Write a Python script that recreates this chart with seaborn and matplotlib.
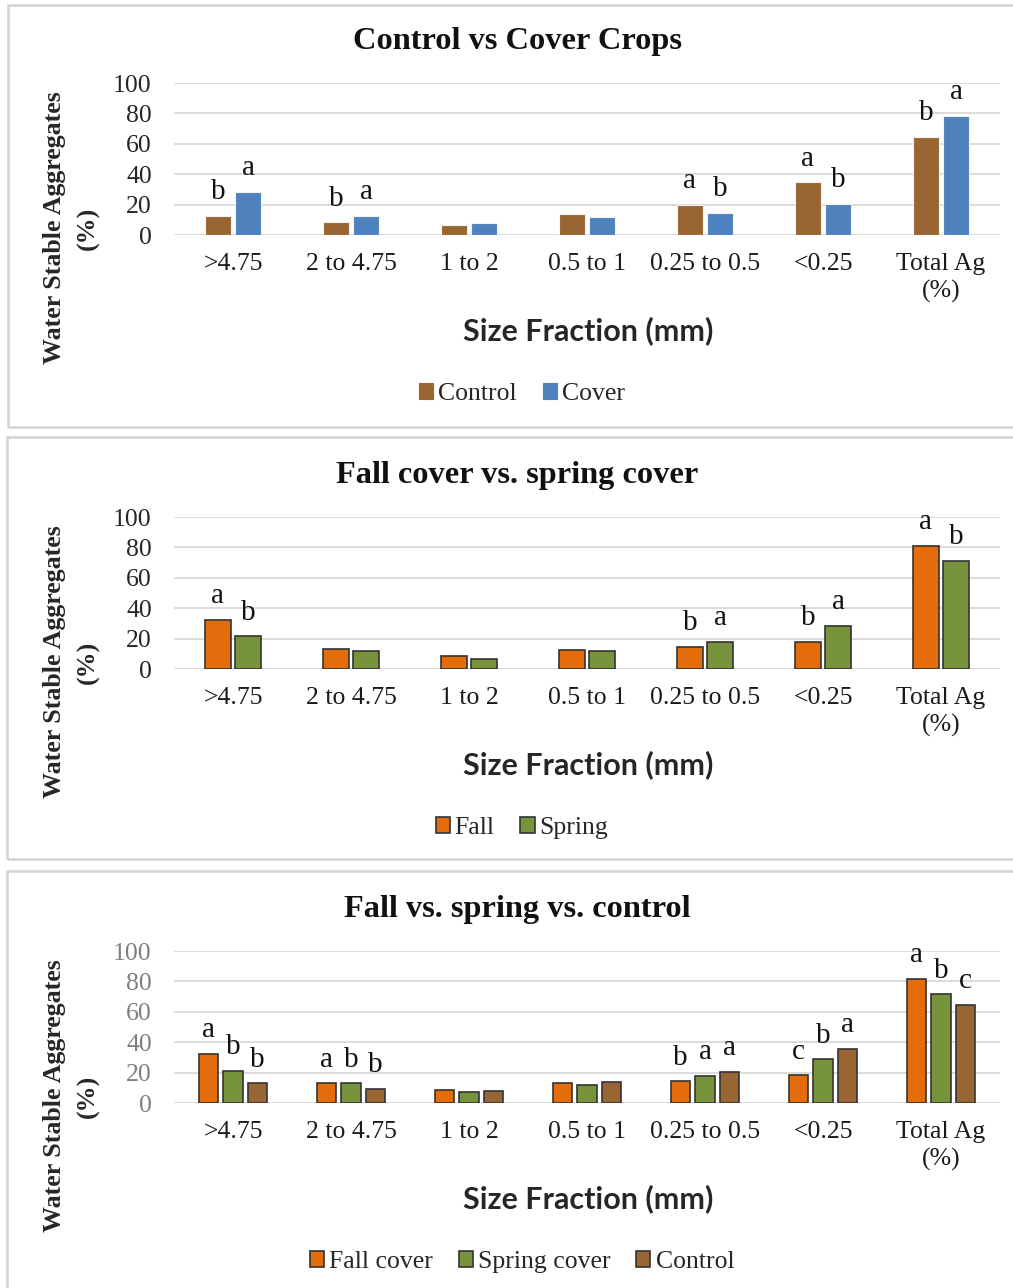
import matplotlib
matplotlib.use("Agg")
import matplotlib.pyplot as plt
import seaborn as sns
import pandas as pd
from matplotlib.patches import Rectangle, Patch

# ---------------- data ----------------
categories = [">4.75", "2 to 4.75", "1 to 2", "0.5 to 1", "0.25 to 0.5", "<0.25", "Total Ag\n(%)"]

# Panel 1: Control vs Cover Crops
p1_title = "Control vs Cover Crops"
p1_series = ["Control", "Cover"]
p1_control = [12.4, 8.4, 6.9, 14.0, 20.0, 34.7, 64.7]
p1_cover = [28.4, 12.4, 7.7, 11.7, 14.7, 20.7, 78.4]
p1_letters_control = ["b", "b", "", "", "a", "a", "b"]
p1_letters_cover = ["a", "a", "", "", "b", "b", "a"]

# Panel 2: Fall cover vs. spring cover
p2_title = "Fall cover vs. spring cover"
p2_series = ["Fall", "Spring"]
p2_fall = [32.5, 13.0, 8.8, 12.4, 14.6, 17.9, 81.2]
p2_spring = [21.4, 12.1, 6.8, 12.1, 17.9, 28.3, 71.1]
p2_letters_fall = ["a", "", "", "", "b", "b", "a"]
p2_letters_spring = ["b", "", "", "", "a", "a", "b"]

# Panel 3: Fall vs. spring vs. control
p3_title = "Fall vs. spring vs. control"
p3_series = ["Fall cover", "Spring cover", "Control"]
p3_fall = [32.2, 13.0, 8.6, 13.0, 14.3, 18.3, 81.9]
p3_spring = [21.2, 13.0, 7.3, 12.1, 17.7, 28.7, 71.5]
p3_control = [13.0, 9.5, 7.9, 14.1, 20.5, 35.5, 64.7]
p3_letters_fall = ["a", "a", "", "", "b", "c", "a"]
p3_letters_spring = ["b", "b", "", "", "a", "b", "b"]
p3_letters_control = ["b", "b", "", "", "a", "a", "c"]

yticks = [0, 20, 40, 60, 80, 100]
ylabel_main = "Water Stable Aggregates"
ylabel_unit = "(%)"
xlabel = "Size Fraction (mm)"

BROWN = "#996633"
BLUE = "#4F81BD"
ORANGE = "#E46C0A"
GREEN = "#77933C"

# ---------------- style ----------------
sns.set_theme(style="white")
plt.rcParams["font.family"] = ["Liberation Serif", "DejaVu Serif"]

W, H = 1013, 1288
fig = plt.figure(figsize=(W / 100, H / 100), dpi=100)


def fx(x):
    return x / W


def fy(y):
    return 1 - y / H


TICK_FS = 18.5
SERIF = ["Liberation Serif", "DejaVu Serif"]


def draw_panel(off, title, series, values, letters, colors, width, gap,
               edgecolor, lw, ytick_color, box):
    # panel border
    bx0, by0, by1 = box
    fig.add_artist(Rectangle((fx(bx0), fy(by1)), fx(W + 20 - bx0), (by1 - by0) / H,
                             transform=fig.transFigure, fill=False,
                             edgecolor="#d3d3d3", lw=1.8))
    ax = fig.add_axes([fx(174), fy(235 + off), (1000 - 174) / W, (235 - 83) / H])
    rows = []
    for s, vals in zip(series, values):
        for c, v in zip(categories, vals):
            rows.append({"size": c, "value": v, "series": s})
    df = pd.DataFrame(rows)
    sns.barplot(data=df, x="size", y="value", hue="series", order=categories,
                hue_order=series, palette=colors, width=width, gap=gap,
                edgecolor=edgecolor, linewidth=lw, errorbar=None,
                legend=False, ax=ax, saturation=1)
    ax.set_ylim(0, 100)
    ax.set_xlim(-0.5, len(categories) - 0.5)
    ax.set_yticks(yticks)
    ax.yaxis.grid(True, color="#d9d9d9", lw=1.3)
    ax.xaxis.grid(False)
    ax.set_axisbelow(True)
    for sp in ax.spines.values():
        sp.set_visible(False)
    ax.tick_params(axis="y", length=0, pad=16, labelsize=TICK_FS, colors=ytick_color)
    ax.tick_params(axis="x", length=0, pad=13, labelsize=TICK_FS, colors="#1a1a1a")
    ax.set_xlabel("")
    ax.set_ylabel("")
    for lab in ax.get_xticklabels():
        lab.set_linespacing(1.3)
    # significance letters
    for cont, lets in zip(ax.containers, letters):
        for bar, let in zip(cont, lets):
            if let:
                ax.annotate(let, (bar.get_x() + bar.get_width() / 2, bar.get_height()),
                            xytext=(0, 12), textcoords="offset points",
                            ha="center", va="baseline", fontsize=21,
                            family=SERIF, color="#111111")
    # title
    fig.text(fx(517), fy(41 + off), title, ha="center", va="center",
             fontsize=23.3, fontweight="bold", family=SERIF, color="#111111")
    # y label (two lines, rotated)
    fig.text(fx(55), fy(228 + off), ylabel_main, rotation=90, ha="center",
             va="center", fontsize=18.7, fontweight="bold", family=SERIF)
    fig.text(fx(88), fy(228 + off), ylabel_unit, rotation=90, ha="center",
             va="center", fontsize=18.7, fontweight="bold", family=SERIF)
    # x label
    fig.text(fx(588), fy(331 + off), xlabel, ha="center", va="center",
             fontsize=22, fontweight="bold", family=["Lato", "DejaVu Sans"])
    # legend
    handles = [Patch(facecolor=c, edgecolor=(edgecolor if lw > 0.9 else c), lw=lw)
               for c in colors]
    fig.legend(handles, series, loc="center",
               bbox_to_anchor=(fx(522), fy(394 + off)), ncol=len(series),
               frameon=False, fontsize=18.5, handlelength=0.55, handleheight=0.55,
               handletextpad=0.2, columnspacing=1.0, borderaxespad=0)
    return ax


draw_panel(0, p1_title, p1_series, [p1_control, p1_cover],
           [p1_letters_control, p1_letters_cover], [BROWN, BLUE],
           0.51, 0.13, "#f2f2f2", 0.8, "#262626", (8, 5, 427))
draw_panel(434, p2_title, p2_series, [p2_fall, p2_spring],
           [p2_letters_fall, p2_letters_spring], [ORANGE, GREEN],
           0.51, 0.13, "#333333", 1.2, "#262626", (7, 437, 859))
draw_panel(868, p3_title, p3_series, [p3_fall, p3_spring, p3_control],
           [p3_letters_fall, p3_letters_spring, p3_letters_control],
           [ORANGE, GREEN, BROWN], 0.62, 0.19, "#333333", 1.2, "#7f7f7f",
           (7, 871, 1300))

fig.savefig("out.png", dpi=100)
